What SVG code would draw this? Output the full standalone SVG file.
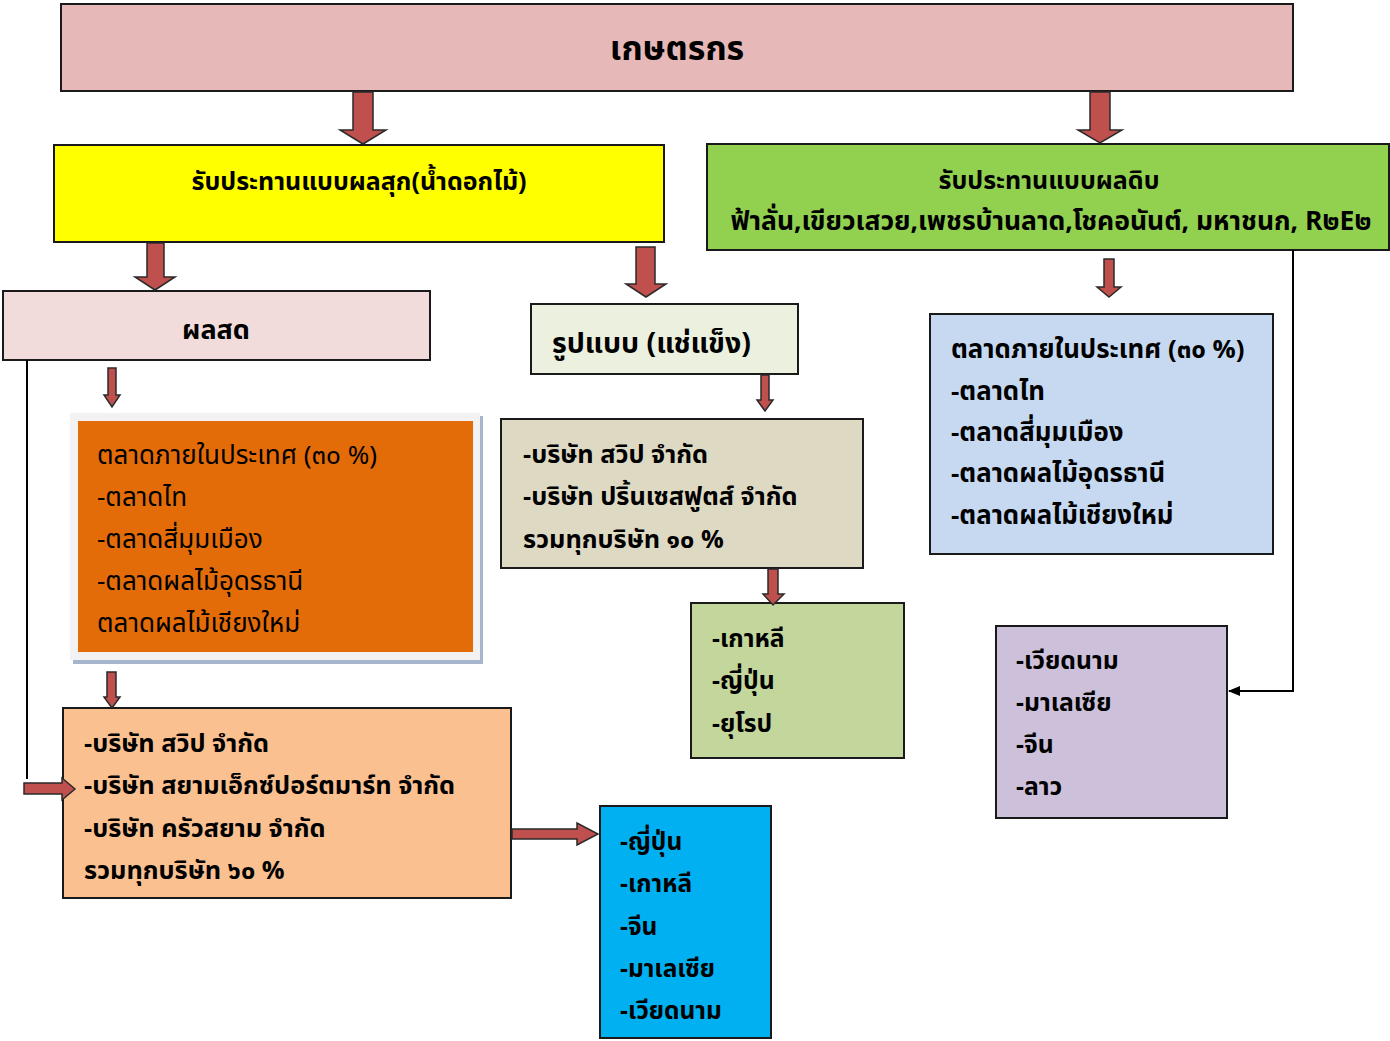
<svg xmlns="http://www.w3.org/2000/svg" width="1390" height="1041" viewBox="0 0 1390 1041">
<defs>
<style>
.box{stroke:#1a1a1a;stroke-width:2}
.t{font-family:"Noto Sans Thai","Noto Sans","DejaVu Sans",sans-serif;fill:#000}
.b{font-weight:bold}
.blk{fill:#C0504D;stroke:#2a2a2a;stroke-width:1.5;stroke-linejoin:miter}
.ln{fill:none;stroke:#000;stroke-width:2}
</style>
<marker id="ah" markerWidth="12" markerHeight="10" refX="11" refY="5" orient="auto" markerUnits="userSpaceOnUse">
<path d="M0,0 L12,5 L0,10 Z" fill="#000"/>
</marker>
</defs>
<rect width="1390" height="1041" fill="#fff"/>

<g id="farmer">
<rect class="box" x="61" y="4" width="1232" height="87" fill="#E6B8B7"/>
<text class="t b" x="677" y="60" font-size="34" text-anchor="middle">เกษตรกร</text>
</g>

<g id="ripe">
<rect class="box" x="54" y="145" width="610" height="97" fill="#FFFF00"/>
<text class="t b" x="359" y="190" font-size="25" text-anchor="middle">รับประทานแบบผลสุก(น้ำดอกไม้)</text>
</g>

<g id="raw">
<rect class="box" x="707" y="144" width="682" height="106" fill="#92D050"/>
<text class="t b" x="1049" y="189" font-size="25" text-anchor="middle">รับประทานแบบผลดิบ</text>
<text class="t b" x="1051" y="230" font-size="26.5" text-anchor="middle">ฟ้าลั่น,เขียวเสวย,เพชรบ้านลาด,โชคอนันต์, มหาชนก, R๒E๒</text>
</g>

<g id="fresh">
<rect class="box" x="3" y="291" width="427" height="69" fill="#F2DCDB"/>
<text class="t b" x="216" y="339" font-size="27" text-anchor="middle">ผลสด</text>
</g>

<g id="frozen">
<rect class="box" x="531" y="304" width="267" height="70" fill="#EBF1DE"/>
<text class="t b" x="552" y="353" font-size="28.5">รูปแบบ (แช่แข็ง)</text>
</g>

<g id="domestic-fresh">
<rect x="73" y="416" width="410" height="248" fill="#A5B5CB"/>
<rect x="70" y="413" width="410" height="247" fill="#F2F2F2"/>
<rect x="78" y="421" width="395" height="231" fill="#E36C09"/>
<text class="t" font-size="26">
<tspan x="97" y="464">ตลาดภายในประเทศ (๓๐ %)</tspan>
<tspan x="97" y="506">-ตลาดไท</tspan>
<tspan x="97" y="548">-ตลาดสี่มุมเมือง</tspan>
<tspan x="97" y="590">-ตลาดผลไม้อุดรธานี</tspan>
<tspan x="97" y="632">ตลาดผลไม้เชียงใหม่</tspan>
</text>
</g>

<g id="companies-frozen">
<rect class="box" x="501" y="419" width="362" height="149" fill="#DDD9C3"/>
<text class="t b" font-size="25.3">
<tspan x="523" y="463">-บริษัท สวิป จำกัด</tspan>
<tspan x="523" y="505">-บริษัท ปริ้นเซสฟูตส์ จำกัด</tspan>
<tspan x="523" y="548">รวมทุกบริษัท ๑๐ %</tspan>
</text>
</g>

<g id="export-frozen">
<rect class="box" x="691" y="603" width="213" height="155" fill="#C3D69B"/>
<text class="t b" font-size="24.7">
<tspan x="712" y="647">-เกาหลี</tspan>
<tspan x="712" y="689">-ญี่ปุ่น</tspan>
<tspan x="712" y="732">-ยุโรป</tspan>
</text>
</g>

<g id="domestic-raw">
<rect class="box" x="930" y="314" width="343" height="240" fill="#C6D9F1"/>
<text class="t b" font-size="25.8">
<tspan x="951" y="358">ตลาดภายในประเทศ (๓๐ %)</tspan>
<tspan x="951" y="400">-ตลาดไท</tspan>
<tspan x="951" y="441">-ตลาดสี่มุมเมือง</tspan>
<tspan x="951" y="482">-ตลาดผลไม้อุดรธานี</tspan>
<tspan x="951" y="524">-ตลาดผลไม้เชียงใหม่</tspan>
</text>
</g>

<g id="export-raw">
<rect class="box" x="996" y="626" width="231" height="192" fill="#CCC0DA"/>
<text class="t b" font-size="24.7">
<tspan x="1016" y="669">-เวียดนาม</tspan>
<tspan x="1016" y="711">-มาเลเซีย</tspan>
<tspan x="1016" y="753">-จีน</tspan>
<tspan x="1016" y="795">-ลาว</tspan>
</text>
</g>

<g id="companies-fresh">
<rect class="box" x="63" y="708" width="448" height="190" fill="#FAC090"/>
<text class="t b" font-size="25.3">
<tspan x="84" y="752">-บริษัท สวิป จำกัด</tspan>
<tspan x="84" y="794">-บริษัท สยามเอ็กซ์ปอร์ตมาร์ท จำกัด</tspan>
<tspan x="84" y="837">-บริษัท ครัวสยาม จำกัด</tspan>
<tspan x="84" y="879">รวมทุกบริษัท ๖๐ %</tspan>
</text>
</g>

<g id="export-fresh">
<rect class="box" x="600" y="806" width="171" height="232" fill="#00B0F0"/>
<text class="t b" font-size="24.5">
<tspan x="620" y="850">-ญี่ปุ่น</tspan>
<tspan x="620" y="892">-เกาหลี</tspan>
<tspan x="620" y="935">-จีน</tspan>
<tspan x="620" y="977">-มาเลเซีย</tspan>
<tspan x="620" y="1019">-เวียดนาม</tspan>
</text>
</g>

<g id="connectors">
<polyline class="ln" points="27,360 27,779"/>
<polyline class="ln" points="1293,250 1293,691 1229,691" marker-end="url(#ah)"/>
<polygon class="blk" points="353,92 373,92 373,130 386,130 363,144 340,130 353,130"/>
<polygon class="blk" points="1090,92 1110,92 1110,130 1122,130 1100,143 1078,130 1090,130"/>
<polygon class="blk" points="147,243 164,243 164,277 175,277 155,290 135,277 147,277"/>
<polygon class="blk" points="636,247 655,247 655,284 666,284 646,297 626,284 636,284"/>
<polygon class="blk" points="1104,259 1114,259 1114,287 1121,287 1109,297 1097,287 1104,287"/>
<polygon class="blk" points="108,368 116,368 116,395 120,395 112,407 104,395 108,395"/>
<polygon class="blk" points="107,672 116,672 116,697 120,697 112,708 104,697 107,697"/>
<polygon class="blk" points="761,375 769,375 769,400 773,400 765,411 757,400 761,400"/>
<polygon class="blk" points="768,569 778,569 778,594 784,594 773,605 763,594 768,594"/>
<polygon class="blk" points="24,783 62,783 62,778 75,789 62,800 62,794 24,794"/>
<polygon class="blk" points="512,829 577,829 577,823 598,834 577,845 577,839 512,839"/>
</g>
</svg>
